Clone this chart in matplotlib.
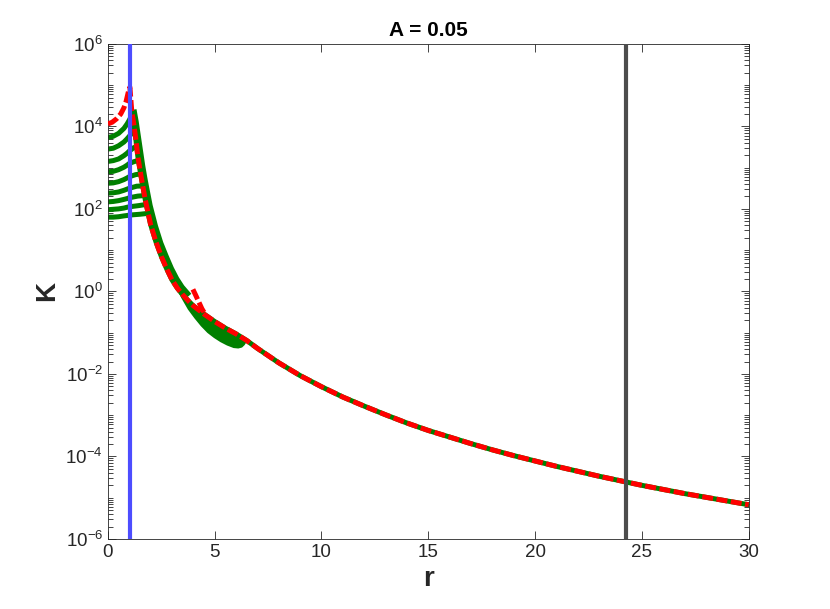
import numpy as np
import matplotlib
matplotlib.use('Agg')
import matplotlib.pyplot as plt
from matplotlib.ticker import LogLocator, NullFormatter, FixedLocator

plt.rcParams['font.family'] = ['Liberation Sans', 'DejaVu Sans']
plt.rcParams['mathtext.default'] = 'regular'

# main descending curve (red dashed over green), log10 K
main_r = [1.12, 1.2, 1.3, 1.4, 1.5, 1.6, 1.75, 2.0, 2.25, 2.5, 2.75, 3.0, 3.25, 3.5, 3.75,
          4.0, 4.5, 5.0, 5.5, 6.0, 6.5, 7, 8, 9, 10, 11, 12, 13, 14, 15, 16, 17, 18, 19,
          20, 21, 22, 23, 24, 25, 26, 27, 28, 29, 30]
main_logK = [4.35, 4.1, 3.72, 3.28, 2.95, 2.65, 2.22, 1.62, 1.2, 0.85, 0.55, 0.28, 0.08, -0.08, -0.22,
             -0.35, -0.55, -0.73, -0.89, -1.03, -1.19, -1.38, -1.73, -2.04, -2.31, -2.56, -2.78, -2.99,
             -3.19, -3.37, -3.53, -3.69, -3.84, -3.98, -4.11, -4.24, -4.36, -4.48, -4.59, -4.70,
             -4.80, -4.90, -4.99, -5.08, -5.17]

# red curve inside the blue line
red_left_r = [0, 0.2, 0.4, 0.6, 0.75, 0.85, 0.95, 1.03]
red_left_logK = [4.06, 4.1, 4.18, 4.3, 4.45, 4.6, 4.82, 4.95]

# short red piece near r = 4
red2_r = [3.98, 4.1, 4.25, 4.4, 4.55]
red2_logK = [0.05, -0.08, -0.25, -0.42, -0.55]

# green curves starting at r = 0
green_r = [
    [0, 0.25, 0.5, 0.75, 0.9, 1.0, 1.1, 1.22],
    [0, 0.25, 0.5, 0.75, 0.9, 1.0, 1.15, 1.38],
    [0, 0.25, 0.5, 0.75, 0.9, 1.0, 1.2, 1.5],
    [0, 0.25, 0.5, 0.75, 0.9, 1.0, 1.25, 1.6],
    [0, 0.25, 0.5, 0.75, 0.9, 1.0, 1.3, 1.7],
    [0, 0.25, 0.5, 0.75, 0.9, 1.0, 1.35, 1.8],
    [0, 0.25, 0.5, 0.75, 0.9, 1.0, 1.4, 1.88],
    [0, 0.25, 0.5, 0.75, 0.9, 1.0, 1.45, 1.95],
    [0, 0.25, 0.5, 0.75, 0.9, 1.0, 1.5, 2.02],
]
green_logK = [
    [3.73, 3.76, 3.83, 3.95, 4.06, 4.15, 4.25, 4.33],
    [3.45, 3.47, 3.53, 3.62, 3.7, 3.76, 3.85, 3.95],
    [3.15, 3.17, 3.21, 3.29, 3.35, 3.4, 3.48, 3.55],
    [2.90, 2.91, 2.95, 3.01, 3.06, 3.1, 3.15, 3.18],
    [2.62, 2.63, 2.66, 2.71, 2.75, 2.78, 2.83, 2.86],
    [2.38, 2.39, 2.41, 2.45, 2.48, 2.5, 2.55, 2.56],
    [2.17, 2.18, 2.2, 2.23, 2.25, 2.27, 2.31, 2.33],
    [1.98, 1.99, 2.0, 2.02, 2.04, 2.05, 2.08, 2.12],
    [1.80, 1.80, 1.81, 1.83, 1.84, 1.85, 1.87, 1.9],
]

# green band to the right of the red line
band_r = [1.22, 1.3, 1.4, 1.5, 1.6, 1.7, 1.8, 1.95, 2.2, 2.45, 2.7, 2.95, 3.2, 3.45, 3.7]
band_logK = [4.33, 4.1, 3.75, 3.4, 3.05, 2.75, 2.48, 2.08, 1.58, 1.17, 0.85, 0.55, 0.3, 0.1, -0.05]

# lower edge of the green lobe
lobe_r = [3.2, 3.5, 3.8, 4.1, 4.4, 4.7, 5.0, 5.3, 5.6, 5.9, 6.1, 6.25, 6.35, 6.45]
lobe_logK = [0.16, -0.15, -0.42, -0.63, -0.82, -0.98, -1.1, -1.2, -1.28, -1.34, -1.35, -1.33, -1.28, -1.2]

r_inner = 1.03
r_outer = 24.25

fig = plt.figure(figsize=(8.3, 6.09), dpi=100)
ax = fig.add_axes([0.13, 0.115, 0.772, 0.813])

green = '#008000'
red = '#ff0000'

main_r = np.array(main_r)
main_K = 10 ** np.array(main_logK)

for rr, kk in zip(green_r, green_logK):
    ax.plot(rr, 10 ** np.array(kk), color=green, lw=3.6, solid_capstyle='butt', zorder=2)
ax.plot(band_r, 10 ** np.array(band_logK), color=green, lw=4.5, zorder=2)
ax.plot(main_r, main_K, color=green, lw=3.6, zorder=2)

m = (main_r >= lobe_r[0]) & (main_r <= lobe_r[-1])
poly_r = np.concatenate([lobe_r, main_r[m][::-1]])
poly_K = np.concatenate([10 ** np.array(lobe_logK), main_K[m][::-1]])
ax.fill(poly_r, poly_K, color=green, lw=0, zorder=2)
ax.plot(lobe_r, 10 ** np.array(lobe_logK), color=green, lw=2, zorder=2)

red_r = np.concatenate([red_left_r, main_r])
red_K = np.concatenate([10 ** np.array(red_left_logK), main_K])
ax.plot(red_r, red_K, color=red, lw=3.6, dashes=(2.2, 0.7), zorder=3)
ax.plot(red2_r, 10 ** np.array(red2_logK), color=red, lw=3.6, dashes=(2.2, 0.7), zorder=3)

ax.axvline(r_inner, color='#4d4dff', lw=3, zorder=4)
ax.axvline(r_outer, color='#4d4d4d', lw=3, zorder=4)

ax.set_yscale('log')
ax.set_xlim(0, 30)
ax.set_ylim(1e-6, 1e6)
ax.set_xticks([0, 5, 10, 15, 20, 25, 30])
ax.yaxis.set_major_locator(FixedLocator([1e-6, 1e-4, 1e-2, 1e0, 1e2, 1e4, 1e6]))
ax.yaxis.set_minor_locator(LogLocator(base=10, subs=np.arange(1, 10), numticks=30))
ax.yaxis.set_minor_formatter(NullFormatter())

ax.tick_params(which='both', direction='in', top=True, right=True, colors='#262626',
               labelsize=13.5, labelcolor='#262626')
ax.tick_params(which='major', length=6, width=0.6)
ax.tick_params(which='minor', length=3.5, width=0.6)
for s in ax.spines.values():
    s.set_color('#262626')
    s.set_linewidth(0.6)

ax.set_xlabel('r', fontsize=20, fontweight='bold', color='#262626')
ax.set_ylabel('K', fontsize=20, fontweight='bold', color='#262626')
ax.set_title('A = 0.05', fontsize=15, fontweight='bold', color='black')

fig.savefig('out.png', dpi=100)
